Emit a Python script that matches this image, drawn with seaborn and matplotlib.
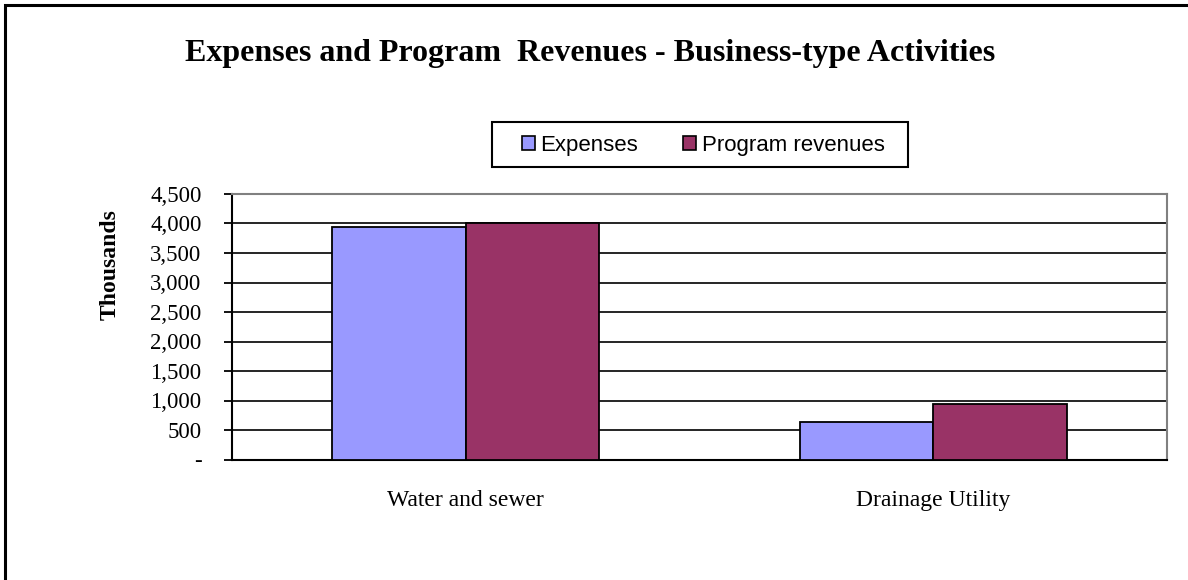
import pandas as pd
import seaborn as sns
import matplotlib.pyplot as plt
from matplotlib.patches import Rectangle
from matplotlib.ticker import FuncFormatter

# data (thousands)
categories = ["Water and sewer", "Drainage Utility"]
series = ["Expenses", "Program revenues"]
expenses = [3940, 630]
program_revenues = [4000, 935]
colors = ["#9999FF", "#993366"]

df = pd.DataFrame({
    "category": categories * 2,
    "series": [series[0]] * 2 + [series[1]] * 2,
    "value": expenses + program_revenues,
})

sns.set_style("white")
plt.rcParams["font.family"] = ["Liberation Serif", "DejaVu Serif"]
plt.rcParams["text.color"] = "black"
plt.rcParams["xtick.color"] = "black"
plt.rcParams["ytick.color"] = "black"
plt.rcParams["axes.labelcolor"] = "black"

fig = plt.figure(figsize=(11.88, 5.80), dpi=100)
ax = fig.add_axes([232 / 1188, 1 - 459.5 / 580, (1167 - 232) / 1188, (459.5 - 194) / 580])

sns.barplot(data=df, x="category", y="value", hue="series", order=categories,
            hue_order=series, palette=colors, width=2 / 3.5, saturation=1,
            edgecolor="black", linewidth=1.3, ax=ax, legend=False, zorder=3)

ax.set_xlim(-0.5, 1.5)
ax.set_ylim(0, 4500)
ax.set_yticks(range(0, 4501, 500))
ax.yaxis.set_major_formatter(FuncFormatter(lambda v, p: "-" if v == 0 else f"{int(v):,}"))
ax.grid(axis="y", color="black", linewidth=1.2, zorder=0)
ax.set_axisbelow(True)

# category labels at centres, tick marks at the boundaries
ax.set_xticks([0, 1])
ax.set_xticklabels(categories, fontsize=17)
ax.tick_params(axis="x", which="major", length=0, pad=22)
ax.set_xticks([-0.5, 0.5, 1.5], minor=True)
ax.tick_params(axis="x", which="minor", length=6, width=1.3, color="black", direction="out")
ax.tick_params(axis="y", length=6, width=1.3, color="black", direction="out", labelsize=16.5, pad=16, left=True)

for side in ["left", "bottom"]:
    ax.spines[side].set_color("black")
    ax.spines[side].set_linewidth(1.5)
for side in ["top", "right"]:
    ax.spines[side].set_visible(True)
    ax.spines[side].set_color("#808080")
    ax.spines[side].set_linewidth(1.5)

ax.set_xlabel("")
ax.set_ylabel("Thousands", fontsize=17, fontweight="bold")
ax.yaxis.set_label_coords((121 - 232) / 935, (459.5 - 265) / 265.5)

fig.text(590 / 1188, 1 - 54 / 580, "Expenses and Program  Revenues - Business-type Activities",
         ha="center", va="center", fontsize=23, fontweight="bold")

# legend with its own box
handles = [Rectangle((0, 0), 1, 1, facecolor=c, edgecolor="black", linewidth=1.2) for c in colors]
fig.legend(handles, series, loc="center", bbox_to_anchor=(703 / 1188, 1 - 145 / 580),
           ncol=2, frameon=False, handlelength=0.6, handleheight=0.6, handletextpad=0.25,
           columnspacing=2.0, prop={"family": "Liberation Sans", "size": 16})
fig.patches.append(Rectangle((492 / 1188, 1 - 167 / 580), 416 / 1188, 45 / 580,
                             transform=fig.transFigure, fill=False, edgecolor="black", linewidth=1.5))

# outer chart border (only top and left fall inside the image)
fig.patches.append(Rectangle((5 / 1188, -0.1), 1.2, 1.1 - 5 / 580,
                             transform=fig.transFigure, fill=False, edgecolor="black", linewidth=2.2))

fig.savefig("out.png", dpi=100)
